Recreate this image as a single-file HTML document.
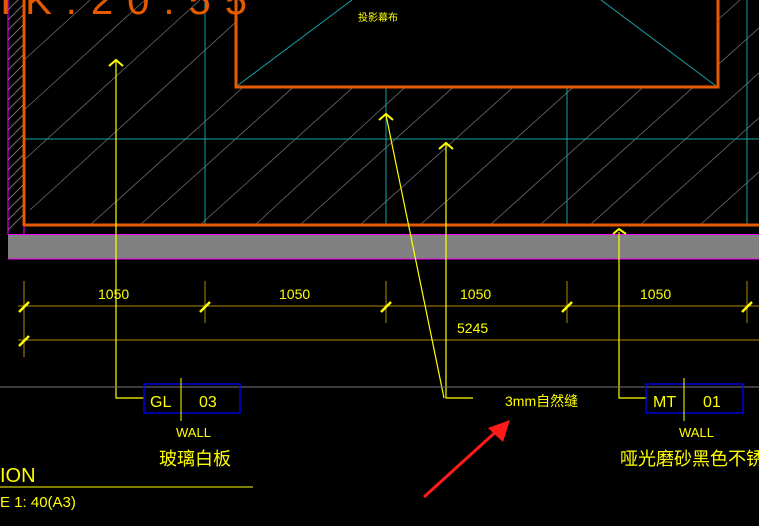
<!DOCTYPE html>
<html><head><meta charset="utf-8"><style>
html,body{margin:0;padding:0;background:#000;}
svg{display:block;}
text{font-family:"Liberation Sans","Noto Sans CJK SC",sans-serif;}
</style></head><body>
<svg width="759" height="526" viewBox="0 0 759 526" xmlns="http://www.w3.org/2000/svg">
<rect width="759" height="526" fill="#000"/>
<defs>
<clipPath id="wall"><rect x="24" y="0" width="735" height="225"/></clipPath>
<clipPath id="strip"><rect x="8" y="0" width="16" height="230"/></clipPath>
</defs>
<!-- hatch in wall -->
<g clip-path="url(#wall)" stroke="#6a6a6a" stroke-width="0.8">
<line x1="24" y1="60" x2="90" y2="0"/><line x1="24" y1="110" x2="145" y2="0"/>
<line x1="24" y1="160" x2="200" y2="0"/><line x1="30" y1="210" x2="260" y2="0"/>
<line x1="90" y1="225" x2="340" y2="0"/><line x1="140" y1="225" x2="390" y2="0"/>
<line x1="200" y1="225" x2="450" y2="0"/><line x1="255" y1="225" x2="500" y2="0"/>
<line x1="300" y1="225" x2="550" y2="0"/><line x1="360" y1="225" x2="610" y2="0"/>
<line x1="420" y1="225" x2="670" y2="0"/><line x1="490" y1="225" x2="740" y2="0"/>
<line x1="540" y1="225" x2="790" y2="0"/><line x1="590" y1="225" x2="840" y2="0"/>
<line x1="640" y1="225" x2="890" y2="0"/><line x1="700" y1="225" x2="950" y2="0"/>
</g>
<g clip-path="url(#strip)" stroke="#888" stroke-width="0.8">
<line x1="8" y1="10" x2="24" y2="-6"/><line x1="8" y1="20" x2="24" y2="4"/><line x1="8" y1="30" x2="24" y2="14"/><line x1="8" y1="40" x2="24" y2="24"/><line x1="8" y1="50" x2="24" y2="34"/><line x1="8" y1="60" x2="24" y2="44"/><line x1="8" y1="70" x2="24" y2="54"/><line x1="8" y1="80" x2="24" y2="64"/><line x1="8" y1="90" x2="24" y2="74"/><line x1="8" y1="100" x2="24" y2="84"/><line x1="8" y1="110" x2="24" y2="94"/><line x1="8" y1="120" x2="24" y2="104"/><line x1="8" y1="130" x2="24" y2="114"/><line x1="8" y1="140" x2="24" y2="124"/><line x1="8" y1="150" x2="24" y2="134"/><line x1="8" y1="160" x2="24" y2="144"/><line x1="8" y1="170" x2="24" y2="154"/><line x1="8" y1="180" x2="24" y2="164"/><line x1="8" y1="190" x2="24" y2="174"/><line x1="8" y1="200" x2="24" y2="184"/><line x1="8" y1="210" x2="24" y2="194"/><line x1="8" y1="220" x2="24" y2="204"/><line x1="8" y1="230" x2="24" y2="214"/>
</g>
<!-- screen -->
<rect x="236" y="-5" width="482" height="92" fill="#000"/>
<g stroke="#1aa0a0" stroke-width="1">
<line x1="237" y1="86" x2="352" y2="0"/><line x1="601" y1="0" x2="716" y2="86"/>
<line x1="24" y1="139" x2="759" y2="139"/>
<line x1="205" y1="0" x2="205" y2="225"/>
<line x1="386" y1="87" x2="386" y2="225"/>
<line x1="567" y1="87" x2="567" y2="225"/>
<line x1="747" y1="0" x2="747" y2="225"/>
</g>
<g stroke="#e65a00" stroke-width="3" fill="none">
<polyline points="236,-5 236,87 718,87 718,-5"/>
<line x1="24" y1="0" x2="24" y2="226"/>
<line x1="24" y1="225" x2="759" y2="225"/>
</g>
<text x="0" y="14" fill="#e65a00" font-size="40" letter-spacing="14">IK.20.55</text>
<text x="358" y="21" fill="#ffff00" font-size="10">投影幕布</text>
<!-- floor band -->
<line x1="8" y1="0" x2="8" y2="234" stroke="#ff00ff" stroke-width="1"/>
<rect x="8" y="234" width="751" height="25" fill="#808080"/>
<line x1="8" y1="234.5" x2="759" y2="234.5" stroke="#ff00ff" stroke-width="1"/>
<line x1="8" y1="259" x2="759" y2="259" stroke="#ff00ff" stroke-width="1"/>
<line x1="24" y1="226" x2="24" y2="234" stroke="#ff00ff" stroke-width="1"/>
<!-- dimension lines -->
<g stroke="#b08a00" stroke-width="1">
<line x1="18" y1="306" x2="759" y2="306"/><line x1="18" y1="340" x2="759" y2="340"/>
<line x1="24" y1="281" x2="24" y2="357"/>
<line x1="205" y1="281" x2="205" y2="323"/>
<line x1="386" y1="281" x2="386" y2="323"/>
<line x1="567" y1="281" x2="567" y2="323"/>
<line x1="747" y1="281" x2="747" y2="323"/>
</g>
<g stroke="#ffff00" stroke-width="2.5">
<line x1="19" y1="312" x2="29" y2="302"/><line x1="19" y1="346" x2="29" y2="336"/>
<line x1="200" y1="312" x2="210" y2="302"/><line x1="381" y1="312" x2="391" y2="302"/>
<line x1="562" y1="312" x2="572" y2="302"/><line x1="742" y1="312" x2="752" y2="302"/>
</g>
<g fill="#ffff00" font-size="14">
<text x="98" y="299">1050</text><text x="279" y="299">1050</text>
<text x="460" y="299">1050</text><text x="640" y="299">1050</text>
<text x="457" y="333">5245</text>
</g>
<!-- leaders -->
<g stroke="#ffff00" stroke-width="1.2" fill="none">
<polyline points="116,60 116,398 144,398"/>
<polyline points="446,143 446,398 473,398"/>
<polyline points="386,115 444,398"/>
<polyline points="619,232 619,398 647,398"/>
</g>
<g stroke="#ffff00" stroke-width="2" fill="none">
<polyline points="109,66 116,60 123,66"/>
<polyline points="379,120 386,114 393,120"/>
<polyline points="439,149 446,143 453,149"/>
<polyline points="613,234 619,229 626,234"/>
</g>
<line x1="0" y1="387" x2="759" y2="387" stroke="#777" stroke-width="1"/>
<!-- tags -->
<g stroke="#0000ff" stroke-width="1.3" fill="none">
<rect x="144" y="384" width="96" height="29"/>
<rect x="646" y="384" width="97" height="29"/>
</g>
<g stroke="#ffff00" stroke-width="1">
<line x1="181" y1="378" x2="181" y2="421"/>
<line x1="684" y1="378" x2="684" y2="421"/>
</g>
<g fill="#ffff00">
<text x="150" y="407" font-size="16">GL</text><text x="199" y="407" font-size="16">03</text>
<text x="653" y="407" font-size="16">MT</text><text x="703" y="407" font-size="16">01</text>
<text x="176" y="437" font-size="13">WALL</text>
<text x="679" y="437" font-size="13">WALL</text>
<text x="159" y="465" font-size="18">玻璃白板</text>
<text x="620" y="465" font-size="18">哑光磨砂黑色不锈钢</text>
<text x="505" y="406" font-size="14">3mm自然缝</text>
<text x="0" y="482" font-size="20">ION</text>
<text x="0" y="507" font-size="15">E 1:   40(A3)</text>
</g>
<line x1="0" y1="487" x2="253" y2="487" stroke="#ffff00" stroke-width="1"/>
<!-- red arrow -->
<line x1="424" y1="497" x2="500" y2="428" stroke="#ff1a1a" stroke-width="3"/>
<polygon points="510,420 488,428 503,442" fill="#ff1a1a"/>
</svg>
</body></html>
